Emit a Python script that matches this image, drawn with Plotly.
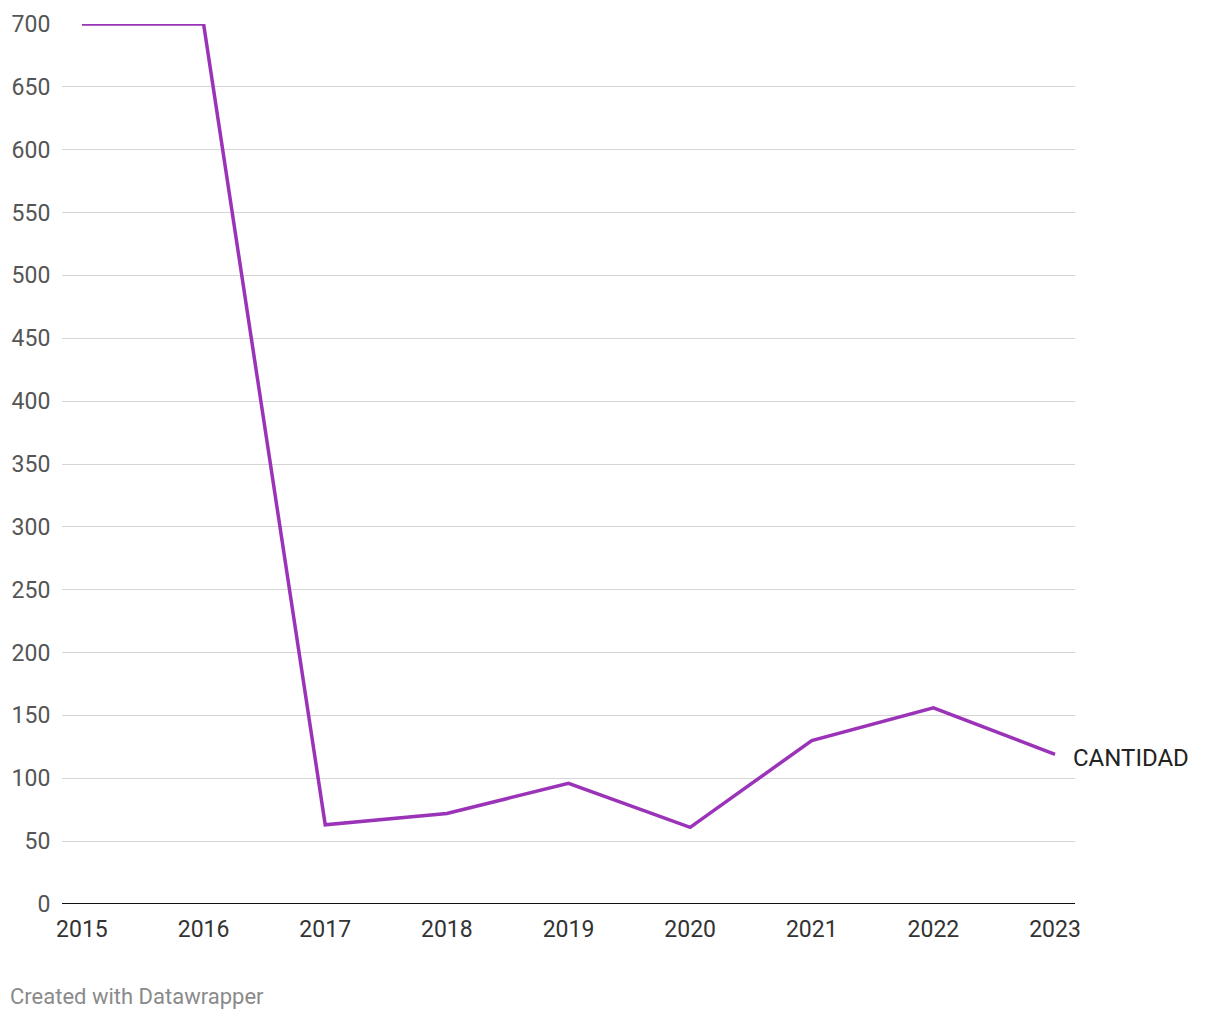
import plotly.graph_objects as go

years = [2015, 2016, 2017, 2018, 2019, 2020, 2021, 2022, 2023]
cantidad = [700, 700, 63, 72, 96, 61, 130, 156, 119]
series_name = "CANTIDAD"
y_ticks = [0, 50, 100, 150, 200, 250, 300, 350, 400, 450, 500, 550, 600, 650, 700]

font_family = "Roboto, 'Noto Sans', sans-serif"
line_color = "#9b33b8"

fig = go.Figure()
fig.add_trace(go.Scatter(
    x=years, y=cantidad, mode="lines",
    line=dict(color=line_color, width=3.5),
    name=series_name, showlegend=False, hoverinfo="x+y",
))

fig.add_annotation(
    x=years[-1], y=cantidad[-1], xref="x", yref="y",
    text=series_name, showarrow=False, xanchor="left", yanchor="middle",
    xshift=16, yshift=-4,
    font=dict(family=font_family, size=24, color="#222222"),
)

fig.add_annotation(
    x=0, y=0, xref="paper", yref="paper",
    text="Created with Datawrapper", showarrow=False,
    xanchor="left", yanchor="top", xshift=-54, yshift=-78,
    font=dict(family=font_family, size=22, color="#8a8a8a"),
)

fig.update_layout(
    width=1204, height=1004,
    margin=dict(l=54, r=137, t=16, b=108, autoexpand=False),
    paper_bgcolor="white", plot_bgcolor="white",
    font=dict(family=font_family, size=23, color="#555555"),
    xaxis=dict(
        range=[2014.836, 2023.164], tickvals=years, ticktext=[str(y) for y in years],
        showgrid=False, zeroline=False, showline=False, automargin=False,
        ticks="outside", ticklen=4, tickcolor="rgba(0,0,0,0)",
        tickfont=dict(color="#333333", size=23),
    ),
    yaxis=dict(
        range=[0, 700], tickvals=y_ticks,
        showgrid=True, gridcolor="#d6d6d6", gridwidth=1.3,
        zeroline=False, showline=False, automargin=False,
        ticks="outside", ticklen=6, tickcolor="rgba(0,0,0,0)",
        tickfont=dict(color="#555555", size=23),
    ),
)

fig.add_shape(type="line", xref="paper", yref="y", x0=0, x1=1, y0=0, y1=0,
              line=dict(color="#111111", width=2), layer="above")

fig.write_html("out.html")
